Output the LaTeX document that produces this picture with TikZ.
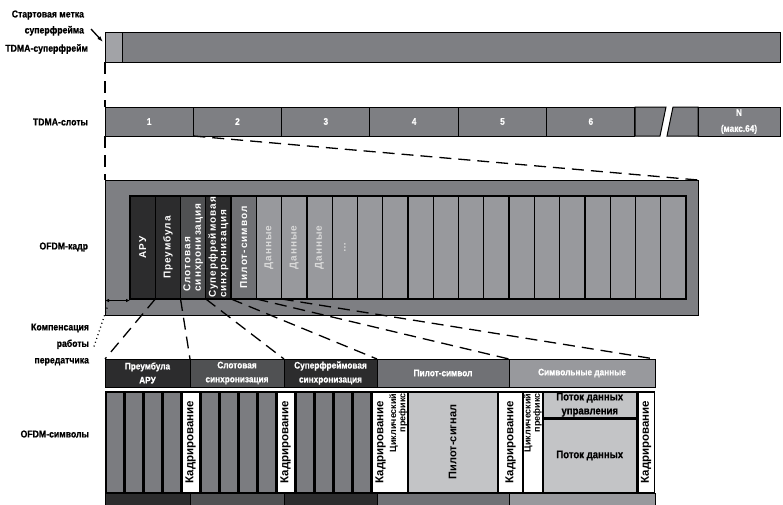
\documentclass[tikz,border=0pt]{standalone}
\usepackage{fontspec}
\setmainfont{Liberation Sans}
\newfontfamily\narrowfont{Liberation Sans}[FakeStretch=0.87, FakeBold=0.6]
\newfontfamily\spacedfont{Liberation Sans}[LetterSpace=10]
\usetikzlibrary{arrows.meta}
\definecolor{frameGray}{HTML}{7E7F83}
\definecolor{startGray}{HTML}{A2A3A7}
\definecolor{cellDark}{HTML}{2C2C2D}
\definecolor{cellSlot}{HTML}{505153}
\definecolor{cellPilot}{HTML}{707175}
\definecolor{cellData}{HTML}{98999D}
\definecolor{lightFill}{HTML}{C3C4C6}
\definecolor{symGray}{HTML}{7B7C80}
\begin{document}
\begin{tikzpicture}[x=1pt, y=-1pt,
  every node/.style={inner sep=0pt, outer sep=0pt, font=\narrowfont\bfseries\fontsize{9.5}{10}\selectfont},
  lbl/.style={anchor=east, align=right, font=\narrowfont\bfseries\fontsize{10}{16.5}\selectfont},
  bar/.style={draw=black, line width=1pt, fill=frameGray},
  cell/.style={draw=black, line width=1.2pt, rotate=90, minimum width=103pt, minimum height=25.27pt, text=white, align=left, font=\spacedfont\bfseries\fontsize{10}{10.5}\selectfont},
  hdr/.style={draw=black, line width=1pt, minimum height=28pt, text=white, align=center, font=\narrowfont\bfseries\fontsize{9.5}{14}\selectfont},
  col/.style={rotate=90, minimum width=99pt, minimum height=16pt, align=center, font=\bfseries\fontsize{11.5}{12}\selectfont},
  cpcol/.style={col, fill=white, text width=97pt, align=right, font=\bfseries\fontsize{9}{7}\selectfont},
  zoomline/.style={dash pattern=on 12pt off 7pt, line width=1.3pt},
  markarr/.style={-{Latex[length=6pt,width=4pt]}, line width=1.3pt},
  comparr/.style={{Latex[length=4pt,width=3.5pt]}-{Latex[length=4pt,width=3.5pt]}, line width=1pt},
  dots/.style={line width=1.3pt, dash pattern=on 1pt off 3pt}
]
\useasboundingbox (0,0) rectangle (783,504);
% Row 1: TDMA superframe
\node[bar, minimum width=675pt, minimum height=30pt] (sf) at (442.5,47) {};
\node[bar, fill=startGray, minimum width=17pt, minimum height=30pt] (sm) at (113.5,47) {};
\node[lbl, font=\narrowfont\bfseries\fontsize{10}{16}\selectfont] (start) at (84,23) {Стартовая метка\\суперфрейма};
\node[lbl] (lsf) at (88,49) {TDMA-суперфрейм};
\draw[markarr] ([shift={(7pt,-6pt)}]start.east) -- ([shift={(-2pt,-10pt)}]sm.north west);
% Row 2: TDMA slots
\foreach \i in {1,...,6}
  \node[bar, minimum width=88.33pt, minimum height=29pt, text=white] (s\i) at ({105+(\i-0.5)*88.33},121.5) {\i};
\draw[bar] (635,107) -- (666,107) -- (660,136) -- (635,136) -- cycle;
\draw[bar] (673,107) -- (698,107) -- (698,136) -- (667,136) -- cycle;
\node[bar, minimum width=82pt, minimum height=29pt, text=white, align=center, font=\narrowfont\bfseries\fontsize{9.5}{16}\selectfont] (sN) at (739,121.5) {N\\(макс.64)};
\node[lbl] (lslots) at (88,122) {TDMA-слоты};
% Row 3: OFDM frame
\node[bar, minimum width=593pt, minimum height=135pt] (frame) at (401.5,247.5) {};
\foreach \i/\col/\tc/\txt in {1/cellDark/white/АРУ, 2/cellDark/white/Преумбула,
    3/cellSlot/white/{Слотовая\\синхронизация}, 4/cellDark/white/{Суперфреймовая\\синхронизация},
    5/cellPilot/white/Пилот-символ, 6/cellData/white!85!black/Данные,
    7/cellData/white!85!black/Данные, 8/cellData/white!85!black/Данные, 9/cellData/white!85!black/{\dots}}
  \node[cell, fill=\col, text=\tc] (c\i) at ({130+(\i-0.5)*25.2727},247.5) {\txt};
\foreach \i in {10,...,22}
  \node[cell, fill=cellData] (c\i) at ({130+(\i-0.5)*25.2727},247.5) {};
\node[lbl] (lframe) at (88,247) {OFDM-кадр};
\draw[comparr] ([yshift=-1.5pt]frame.west |- c1.north west) -- ([yshift=-1.5pt]c1.north west);
\node[lbl] (comp) at (89,344.5) {Компенсация\\работы\\передатчика};
\coordinate (ctip) at (108,305);
\draw[dots] ([xshift=5pt,yshift=-2pt]comp.east) -- (ctip);
% Zoom lines
\draw[zoomline] (sm.south west) -- (s1.north west);
\draw[zoomline] (s1.south west) -- (frame.north west);
\draw[zoomline] (s1.south east) -- (frame.north east);
% Row 4: OFDM symbols
\node[hdr, fill=cellDark, minimum width=85pt] (h1) at (147.5,373) {Преумбула\\АРУ};
\node[hdr, fill=cellSlot, minimum width=94pt] (h2) at (237,373) {Слотовая\\синхронизация};
\node[hdr, fill=cellDark, minimum width=93pt] (h3) at (330.5,373) {Суперфреймовая\\синхронизация};
\node[hdr, fill=cellPilot, minimum width=132pt] (h4) at (443,373) {Пилот-символ};
\node[hdr, fill=cellData, minimum width=146pt] (h5) at (582,373) {Символьные данные};
\fill[black] (105,391) rectangle (655,493);
\foreach \g in {0,1,2}{
  \foreach \k in {0,...,3}
    \node[col, fill=symGray] (g\g k\k) at ({114.5+95*\g+19*\k},442) {};
  \node[col, fill=white] (kad\g) at ({114.5+95*\g+76},442) {Кадрирование};
}
\node[cpcol] (cp1) at (398.25,442) {Циклический\\префикс};
\node[col, fill=lightFill, minimum height=87.5pt, font=\bfseries\fontsize{11}{12}\selectfont] (pilot) at (452.75,442) {Пилот-сигнал};
\node[col, fill=white, minimum height=23pt] (kad3) at (510.5,442) {Кадрирование};
\node[cpcol] (cp2) at (532.75,442) {Циклический\\префикс};
\node[fill=lightFill, minimum width=92.5pt, minimum height=24.5pt, align=center, font=\narrowfont\bfseries\fontsize{11}{14}\selectfont] (ctrl) at (589.75,404.75) {Поток данных\\управления};
\node[fill=lightFill, minimum width=92.5pt, minimum height=72pt, font=\narrowfont\bfseries\fontsize{11}{12}\selectfont] (data) at (589.75,455.5) {Поток данных};
\node[col, fill=white, minimum height=15pt] (kad4) at (646,442) {Кадрирование};
\node[lbl] (lsym) at (89,434) {OFDM-символы};
% Bottom band
\foreach \h/\col in {h1/cellDark, h2/cellSlot, h3/cellDark, h4/cellPilot, h5/cellData}
  \draw[draw=black, line width=1pt, fill=\col] (\h.west |- 0,493) rectangle (\h.east |- 0,510);
% Zoom lines to symbols
\draw[zoomline] (c2.north west) -- (h1.north west);
\draw[zoomline] (c3.north west) -- (h2.north west);
\draw[zoomline] (c4.north west) -- (h3.north west);
\draw[zoomline] (c5.north west) -- (h4.north west);
\draw[zoomline] (c6.north west) -- (h5.north west);
\draw[zoomline] (c6.south west) -- (h5.north east);
\end{tikzpicture}
\end{document}
